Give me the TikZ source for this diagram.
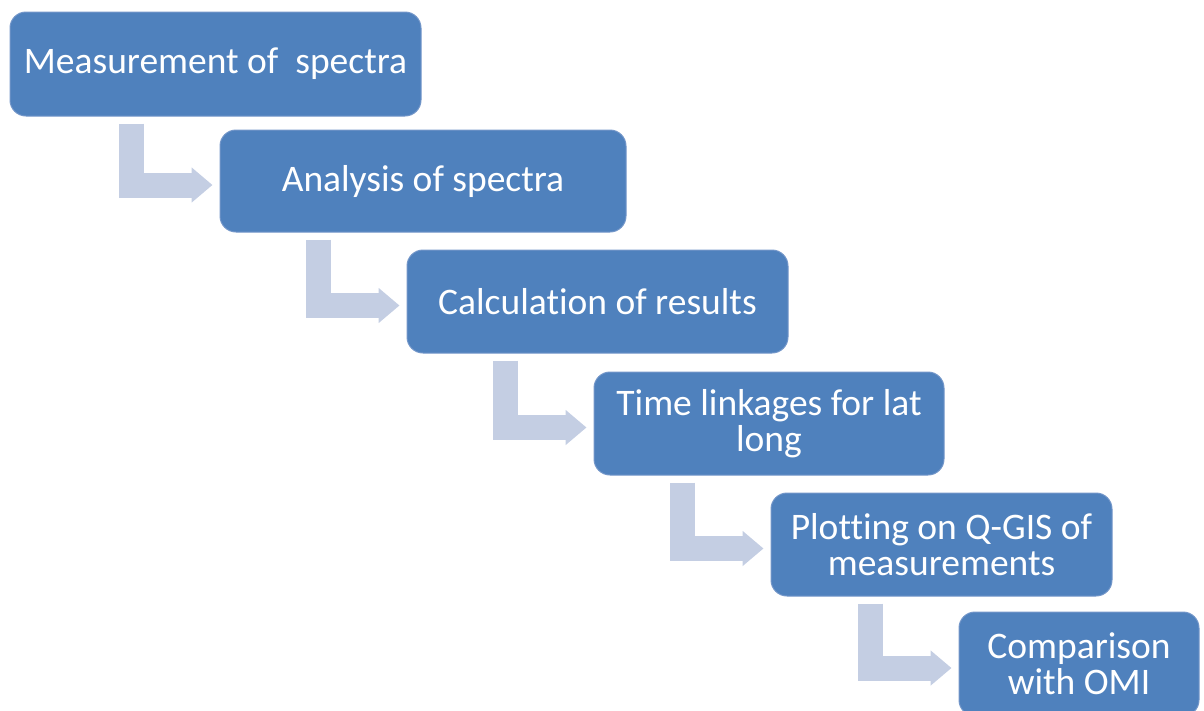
\documentclass[tikz,border=0pt]{standalone}
\usepackage{fontspec}
\setmainfont[Ligatures=NoCommon]{Carlito}
\usetikzlibrary{arrows.meta,calc}
\definecolor{stageblue}{HTML}{4F81BD}
\definecolor{stageedge}{HTML}{7396C9}
\definecolor{flowgrey}{HTML}{C4CEE3}

\begin{document}
\begin{tikzpicture}[x=1pt,y=1pt,
  stage/.style={rounded corners=16pt,fill=stageblue,draw=stageedge,line width=1pt,
    text=white,align=center,inner sep=0pt,font=\fontsize{37.5}{36}\selectfont},
  flow/.style={draw=flowgrey,line width=25pt,-{Triangle[width=34pt,length=21pt]}}]
  \useasboundingbox (0,0) rectangle (1204,-710);
  % steps
  \node[stage,minimum width=411pt,minimum height=104pt] (meas) at (215.5,-64) {Measurement of\ \ spectra};
  \node[stage,minimum width=406pt,minimum height=102pt] (analysis) at (423,-181) {Analysis of spectra};
  \node[stage,minimum width=381pt,minimum height=103pt] (results) at (597.5,-301.5) {Calculation of results};
  \node[stage,minimum width=350pt,minimum height=103pt] (timelink) at (769,-423.5) {Time linkages for lat\\long};
  \node[stage,minimum width=341pt,minimum height=103pt] (qgis) at (941.5,-544.5) {Plotting on Q-GIS of\\measurements};
  \node[stage,minimum width=240pt,minimum height=104pt] (omi) at (1079,-664) {Comparison\\with OMI};
  % bent arrows
  \foreach \a/\b in {meas/analysis,analysis/results,results/timelink,timelink/qgis,qgis/omi}
    \draw[flow] let \p1=(\a.south), \p2=(\b.west) in (\x2-88pt,\y1-7pt) |- (\x2-7pt,\y2-4pt);
\end{tikzpicture}
\end{document}
